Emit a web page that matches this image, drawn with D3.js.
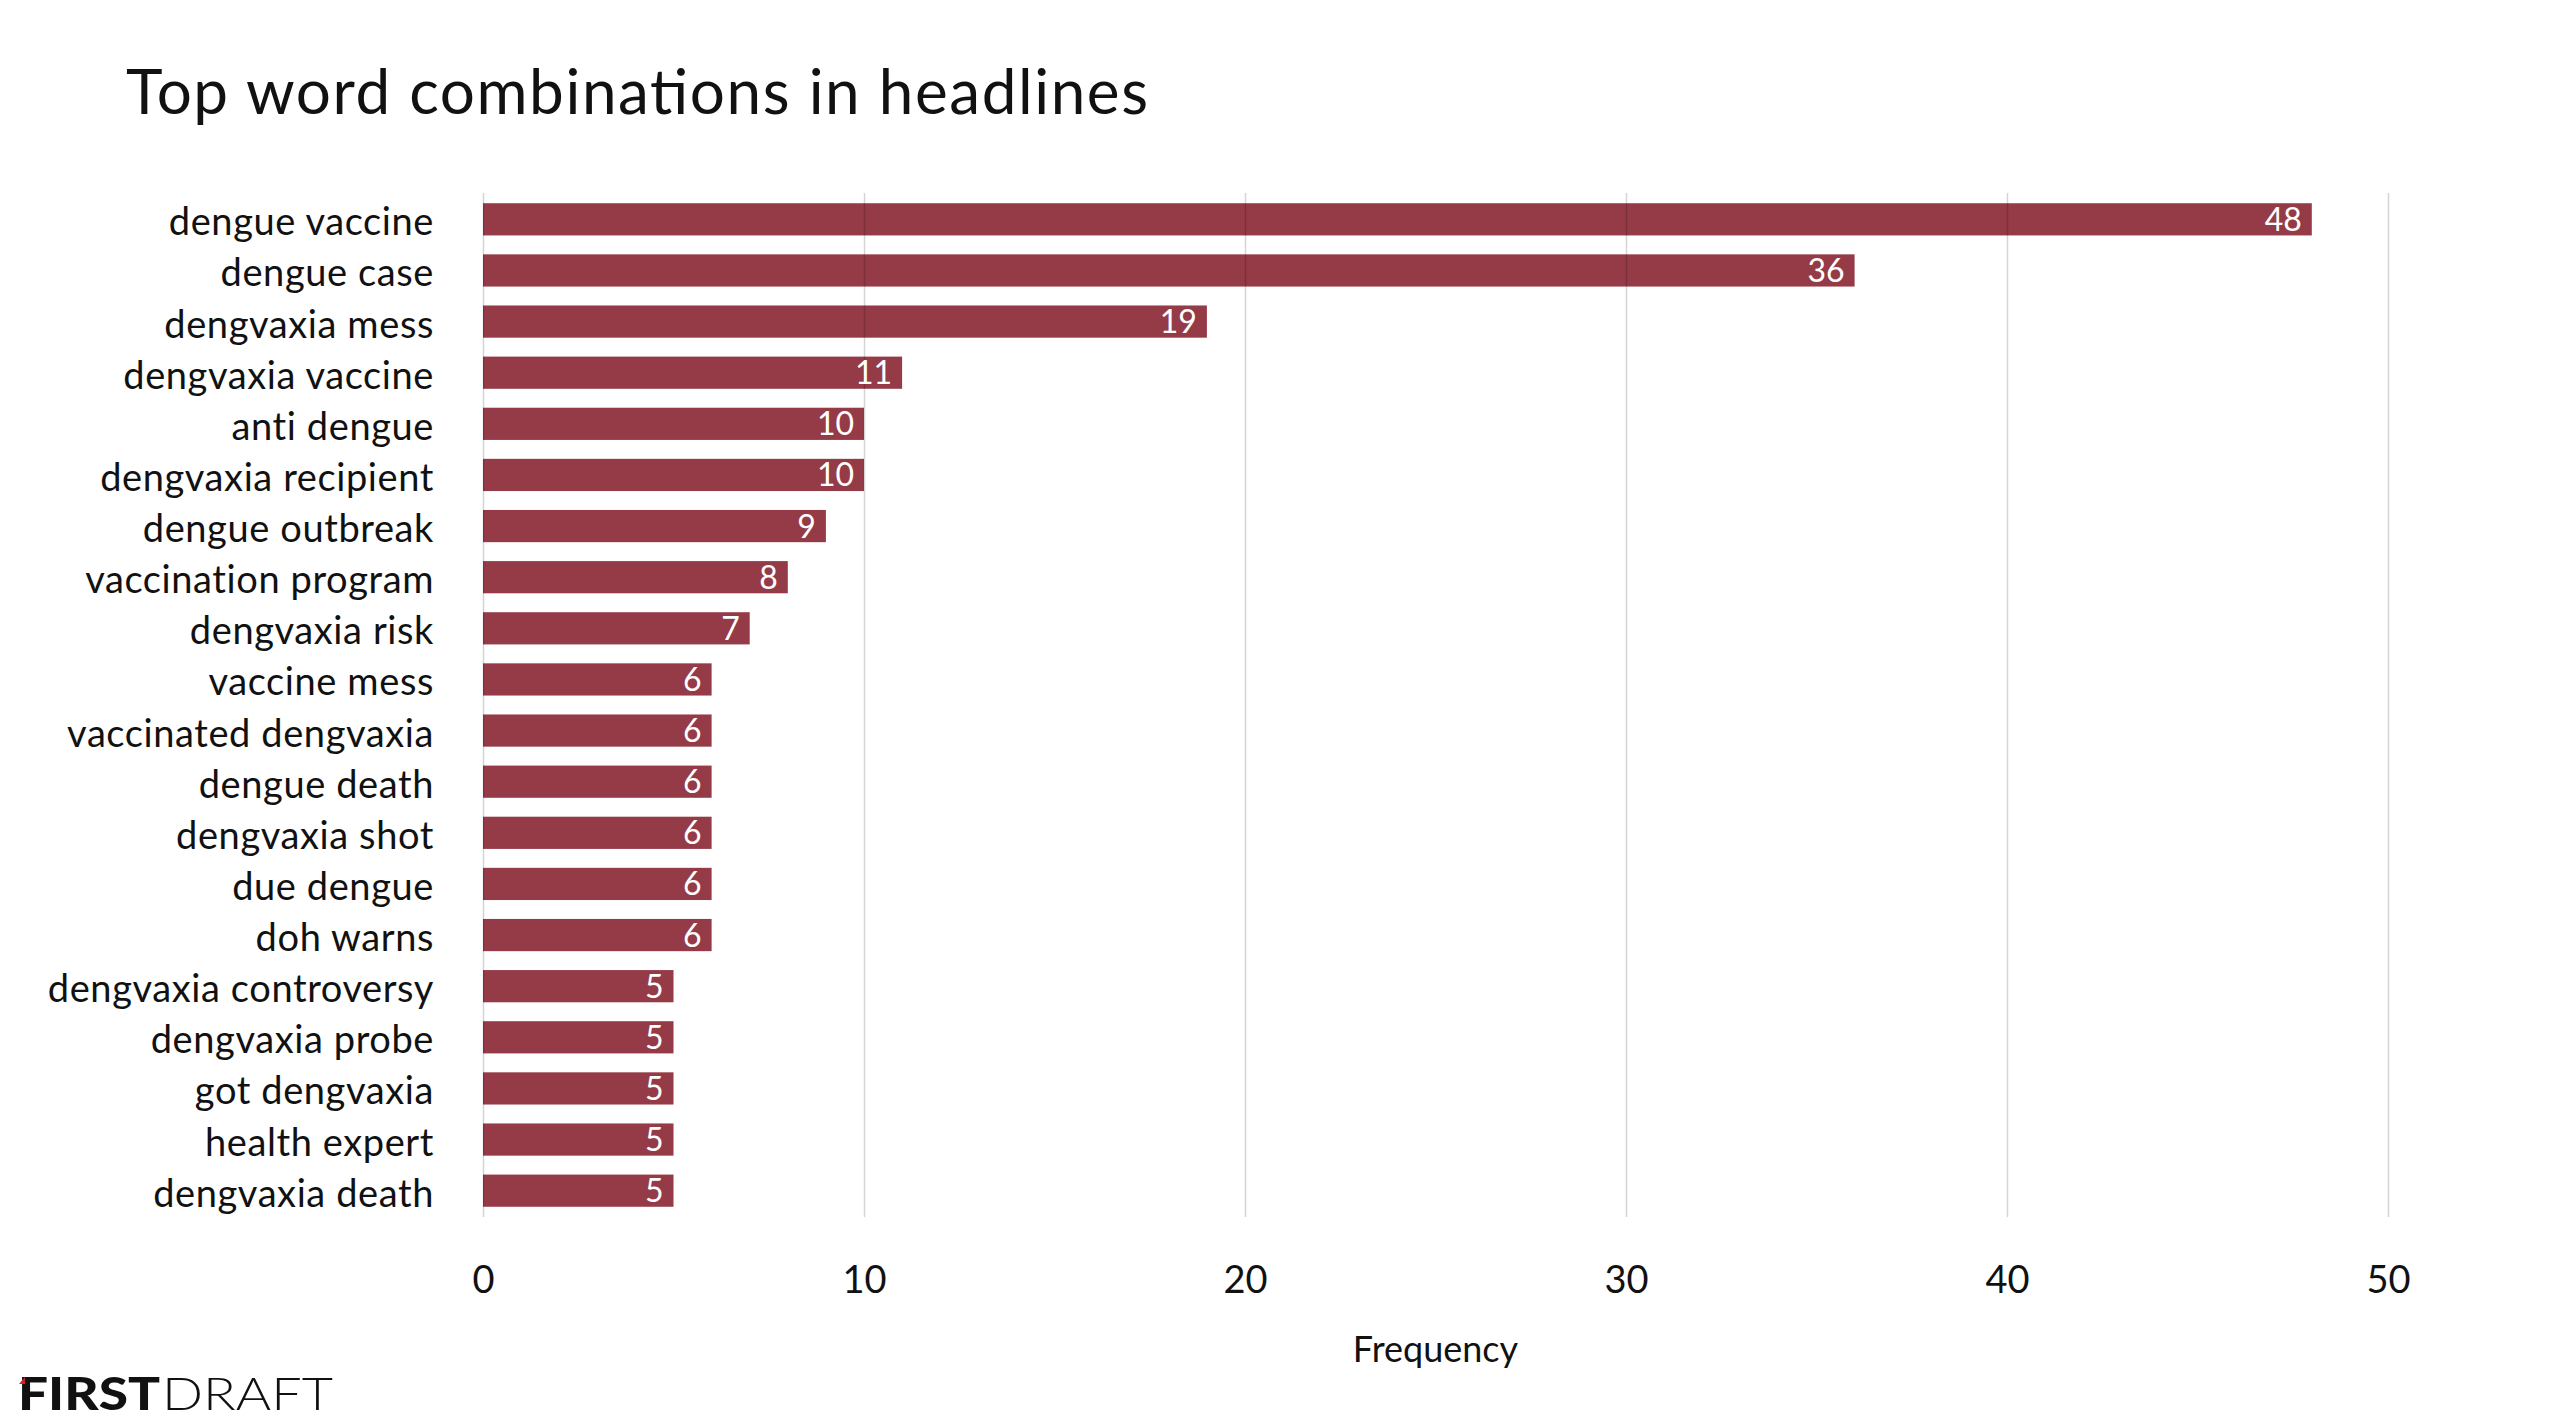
<!DOCTYPE html>
<html>
<head>
<meta charset="utf-8">
<script src="https://cdn.jsdelivr.net/npm/d3@7"></script>
<style>
  body { margin: 0; background: #fff; }
  text { font-family: Lato, "Open Sans", sans-serif; }
</style>
</head>
<body>
<div id="chart"></div>
<script>
var categories = ["dengue vaccine", "dengue case", "dengvaxia mess", "dengvaxia vaccine",
  "anti dengue", "dengvaxia recipient", "dengue outbreak", "vaccination program",
  "dengvaxia risk", "vaccine mess", "vaccinated dengvaxia", "dengue death",
  "dengvaxia shot", "due dengue", "doh warns", "dengvaxia controversy",
  "dengvaxia probe", "got dengvaxia", "health expert", "dengvaxia death"]
var frequency = [48, 36, 19, 11, 10, 10, 9, 8, 7, 6, 6, 6, 6, 6, 6, 5, 5, 5, 5, 5]
var xTicks = [0, 10, 20, 30, 40, 50]

var width = 2560,
    height = 1424;

var svg = d3.select("#chart").append("svg")
    .attr("width", width)
    .attr("height", height);

var x = d3.scaleLinear()
    .domain([0, 50])
    .range([483, 2388]);

var y = d3.scaleBand()
    .domain(categories)
    .range([193, 1217])
    .paddingInner(0.37)
    .paddingOuter(0.2);

// title
svg.append("text")
    .attr("x", 126)
    .attr("y", 114)
    .attr("textLength", 1022)
    .attr("lengthAdjust", "spacing")
    .style("font-size", "62px")
    .style("fill", "#111")
    .text("Top word combinations in headlines");

// bars
svg.selectAll("rect.bar")
    .data(frequency)
  .enter().append("rect")
    .attr("class", "bar")
    .attr("x", x(0))
    .attr("y", function(d, i) { return y(categories[i]); })
    .attr("width", function(d) { return x(d) - x(0); })
    .attr("height", y.bandwidth())
    .style("fill", "#953b47");

// gridlines (drawn over the bars, faint)
var axis = d3.axisBottom(x)
    .tickValues(xTicks)
    .tickSize(-(1217 - 193))
    .tickPadding(0);

var gx = svg.append("g")
    .attr("transform", "translate(0,1217)")
    .call(axis);
gx.select(".domain").remove();
gx.selectAll(".tick line")
    .style("stroke", "#000")
    .style("stroke-opacity", 0.17)
    .style("stroke-width", 1.5);
gx.selectAll(".tick text")
    .attr("y", 76)
    .attr("dy", 0)
    .style("font-family", "Lato, sans-serif")
    .style("font-size", "38px")
    .style("fill", "#111");

// value labels
svg.selectAll("text.value")
    .data(frequency)
  .enter().append("text")
    .attr("class", "value")
    .attr("x", function(d) { return x(d) - 10; })
    .attr("y", function(d, i) { return y(categories[i]) + y.bandwidth() / 2; })
    .attr("dy", "0.36em")
    .attr("text-anchor", "end")
    .style("font-size", "32px")
    .style("fill", "#fff")
    .text(function(d) { return d; });

// category labels
svg.selectAll("text.cat")
    .data(categories)
  .enter().append("text")
    .attr("class", "cat")
    .attr("x", 434)
    .attr("y", function(d) { return y(d) + y.bandwidth() / 2; })
    .attr("dy", "0.42em")
    .attr("text-anchor", "end")
    .style("font-size", "38px")
    .style("letter-spacing", "0.6px")
    .style("fill", "#111")
    .text(function(d) { return d; });

// axis title
svg.append("text")
    .attr("x", (x(0) + x(50)) / 2)
    .attr("y", 1362)
    .attr("text-anchor", "middle")
    .style("font-size", "36px")
    .style("fill", "#111")
    .text("Frequency");

// logo
var logo = svg.append("g");
logo.append("text")
    .attr("x", 18)
    .attr("y", 1410)
    .attr("textLength", 142)
    .attr("lengthAdjust", "spacingAndGlyphs")
    .style("font-size", "46px")
    .style("font-weight", 900)
    .style("fill", "#111")
    .text("FIRST");
logo.append("text")
    .attr("x", 162)
    .attr("y", 1410)
    .attr("textLength", 171)
    .attr("lengthAdjust", "spacingAndGlyphs")
    .style("font-size", "46px")
    .style("font-weight", 300)
    .style("fill", "#111")
    .text("DRAFT");
logo.append("path")
    .attr("d", "M19,1384 L25,1377 L25,1384 Z")
    .style("fill", "#d0202e");
</script>
</body>
</html>
